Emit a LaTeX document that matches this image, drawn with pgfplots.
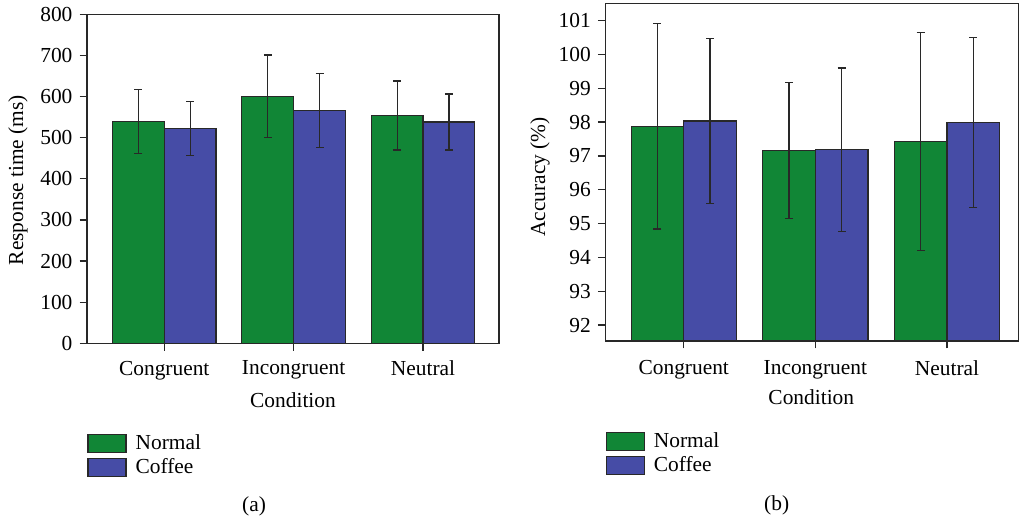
\documentclass[border=0pt]{standalone}
\usepackage{pgfplots}
\pgfplotsset{compat=1.18}
\usepackage{pgfplotstable}
\usepackage{fontspec}
\setmainfont{Liberation Serif}
\definecolor{cgreen}{RGB}{17,134,54}
\definecolor{cblue}{RGB}{70,76,166}
\definecolor{axgray}{RGB}{40,40,40}

\pgfplotstableread{
x y e
0 540 78
1 601 100
2 554 84
}\rtN
\pgfplotstableread{
x y e
0 522 66
1 567 90
2 538 68
}\rtC
\pgfplotstableread{
x y e
0 97.88 3.04
1 97.16 2.02
2 97.43 3.22
}\acN
\pgfplotstableread{
x y e
0 98.03 2.43
1 97.18 2.42
2 97.99 2.52
}\acC

\newcommand{\lfont}{\fontsize{10.7}{12}\selectfont}

\pgfplotsset{
 mystyle/.style={
  scale only axis,
  ybar, bar width=0.4,
  xtick={0,1,2}, xticklabels={Congruent,Incongruent,Neutral},
  xtick pos=lower, ytick pos=left, tick align=outside,
  major tick length=3.75pt,
  axis line style={axgray, line width=0.6pt},
  every tick/.style={axgray, line width=0.6pt},
  tick label style={font=\lfont},
  label style={font=\lfont},
  /pgf/number format/assume math mode=true,
  xlabel={Condition},
  legend style={draw=none, fill=none, font=\lfont, anchor=north west, inner sep=0pt,
    nodes={inner sep=1.5pt}, row sep=0pt},
  legend cell align=left,
  error bars/error bar style={axgray, line width=0.6pt},
  error bars/error mark options={rotate=90, mark size=2pt, axgray, line width=0.6pt},
 },
 mylegend/.style={legend image code/.code={\draw[##1, draw=axgray, line width=0.6pt] (0pt,-4.5pt) rectangle (19pt,4.5pt); \path (22pt,0pt);}},
}

\begin{document}
\begin{tikzpicture}
\path[use as bounding box] (0,0) rectangle (509.5pt,261.5pt);

\begin{axis}[mystyle,
  at={(43.5pt,89.85pt)}, anchor=south west,
  width=206pt, height=164.5pt,
  xmin=-0.597, xmax=2.587,
  ymin=0, ymax=800, ytick={0,100,...,800},
  ylabel={Response time (ms)},
  xticklabel style={yshift=-1.5pt},
  y label style={at={(axis description cs:-0.1675,0.496)}, anchor=center},
  x label style={at={(axis description cs:0.5,-0.172)}, anchor=center},
  legend style={at={(axis description cs:0,-0.268)}},
]
\addplot[fill=cgreen, draw=axgray, line width=0.6pt, bar shift=-0.2, mylegend,
  error bars/.cd, y dir=both, y explicit] table[x=x,y=y,y error=e]{\rtN};
\addplot[fill=cblue, draw=axgray, line width=0.6pt, bar shift=0.2, mylegend,
  error bars/.cd, y dir=both, y explicit] table[x=x,y=y,y error=e]{\rtC};
\legend{Normal,Coffee}
\end{axis}

\begin{axis}[mystyle,
  at={(302.65pt,91pt)}, anchor=south west,
  width=206.4pt, height=168.65pt,
  xmin=-0.596, xmax=2.54,
  ymin=91.53, ymax=101.5, ytick={92,93,...,101},
  ylabel={Accuracy (\%)},
  xticklabel style={yshift=-2.3pt},
  y label style={at={(axis description cs:-0.158,0.486)}, anchor=center},
  x label style={at={(axis description cs:0.499,-0.167)}, anchor=center},
  legend style={at={(axis description cs:0,-0.262)}},
]
\addplot[fill=cgreen, draw=axgray, line width=0.6pt, bar shift=-0.2, mylegend,
  error bars/.cd, y dir=both, y explicit] table[x=x,y=y,y error=e]{\acN};
\addplot[fill=cblue, draw=axgray, line width=0.6pt, bar shift=0.2, mylegend,
  error bars/.cd, y dir=both, y explicit] table[x=x,y=y,y error=e]{\acC};
\legend{Normal,Coffee}
\end{axis}

\node[font=\lfont] at (127pt,8.15pt) {(a)};
\node[font=\lfont] at (388.35pt,8.65pt) {(b)};
\end{tikzpicture}
\end{document}
